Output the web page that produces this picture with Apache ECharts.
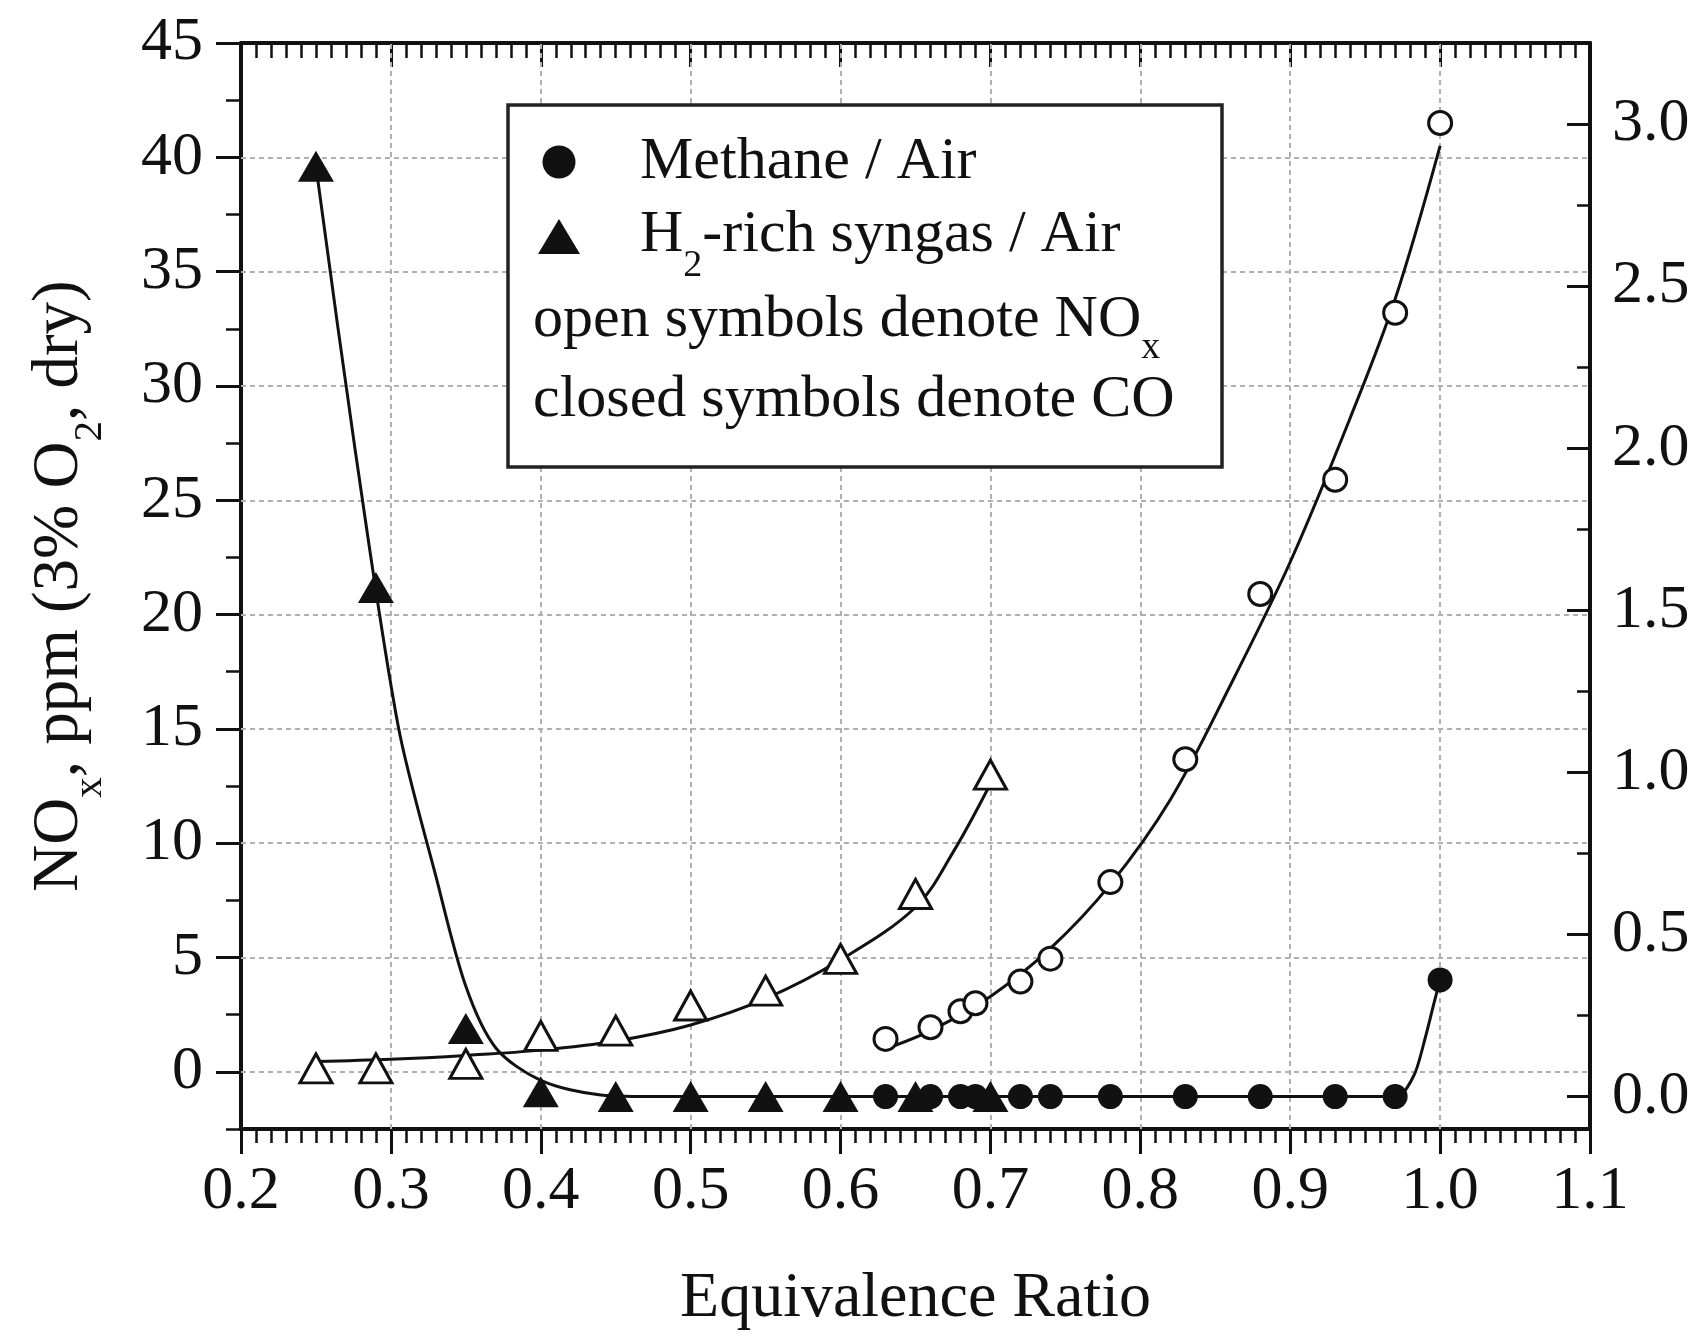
<!DOCTYPE html>
<html>
<head>
<meta charset="utf-8">
<title>NOx and CO emissions vs equivalence ratio</title>
<script src="https://cdn.jsdelivr.net/npm/echarts@6/dist/echarts.min.js"></script>
<style>
  html, body { margin: 0; padding: 0; background: #fff; }
  #chart { width: 1696px; height: 1336px; }
</style>
</head>
<body>
<div id="chart"></div>
<script>
// ---- measured points ----
const methanePhi = [0.63, 0.66, 0.68, 0.69, 0.72, 0.74, 0.78, 0.83, 0.88, 0.93, 0.97, 1.00];
const methaneNOx = [1.44, 1.95, 2.65, 3.0, 3.95, 4.95, 8.3, 13.67, 20.9, 25.9, 33.2, 41.5];
const methaneCO  = [0, 0, 0, 0, 0, 0, 0, 0, 0, 0, 0, 0.36];

const syngasPhi = [0.25, 0.29, 0.35, 0.40, 0.45, 0.50, 0.55, 0.60, 0.65, 0.70];
const syngasNOx = [0.15, 0.15, 0.35, 1.57, 1.8, 2.9, 3.55, 4.94, 7.78, 13.0];
const syngasCO  = [2.87, 1.57, 0.21, 0.015, 0, 0, 0, 0, 0, 0];

// ---- trend lines ----
const methaneNOxFitPhi = [0.63, 0.66, 0.70, 0.74, 0.78, 0.82, 0.86, 0.90, 0.94, 0.97, 1.0];
const methaneNOxFit    = [1.0, 1.8, 3.3, 5.4, 8.2, 11.9, 16.9, 22.3, 28.6, 33.8, 40.5];

const syngasNOxFitPhi = [0.25, 0.30, 0.35, 0.40, 0.45, 0.50, 0.55, 0.60, 0.65, 0.675, 0.70];
const syngasNOxFit    = [0.45, 0.55, 0.72, 0.95, 1.35, 2.05, 3.2, 4.9, 7.2, 9.6, 12.6];

const methaneCOFitPhi = [0.63, 0.80, 0.95, 0.972, 0.983, 0.990, 0.996, 1.0];
const methaneCOFit    = [0, 0, 0, 0.002, 0.07, 0.18, 0.29, 0.36];

const syngasCOFitPhi = [0.25, 0.276, 0.305, 0.33, 0.35, 0.37, 0.40, 0.44, 0.48, 0.70];
const syngasCOFit    = [2.87, 2.00, 1.14, 0.68, 0.34, 0.15, 0.05, 0.005, 0, 0];

// ---- ticks and grid ----
const leftMajor  = [0, 5, 10, 15, 20, 25, 30, 35, 40, 45];
const leftMinor  = [-2.5, 2.5, 7.5, 12.5, 17.5, 22.5, 27.5, 32.5, 37.5, 42.5];
const rightMajor = [0, 0.5, 1.0, 1.5, 2.0, 2.5, 3.0];
const rightMinor = [0.25, 0.75, 1.25, 1.75, 2.25, 2.75];
const gridPhi = [0.3, 0.4, 0.5, 0.6, 0.7, 0.8, 0.9, 1.0];
const gridNOx = [0, 5, 10, 15, 20, 25, 30, 35, 40];

const INK = '#111';
const FONT = '"Liberation Serif", "Times New Roman", Times, serif';
const zip = (xs, ys) => xs.map((x, i) => [x, ys[i]]);

const chart = echarts.init(document.getElementById('chart'));

const axisLine = { show: true, onZero: false, lineStyle: { color: INK, width: 4 } };
const majorTickStyle = { color: INK, width: 3 };
const minorTickStyle = { color: INK, width: 2.5 };

const fitLine = (phi, vals, yIdx, extra) => Object.assign({
  type: 'line',
  xAxisIndex: 0,
  yAxisIndex: yIdx,
  data: zip(phi, vals),
  smooth: 0.35,
  showSymbol: false,
  symbol: 'none',
  silent: true,
  lineStyle: { color: INK, width: 3 },
  z: 2
}, extra || {});

const subRich = (main, sub, pad) => ({
  m: { fontSize: main, fontFamily: FONT, fill: INK, color: INK, lineHeight: main },
  s: { fontSize: sub, fontFamily: FONT, fill: INK, color: INK, lineHeight: sub, padding: [pad, 0, 0, 0] }
});

// legend box, drawn above the grid lines
const LZ = 100;
const legendItems = [
  { type: 'rect', z: LZ, shape: { x: 508, y: 105, width: 714, height: 362 },
    style: { fill: '#fff', stroke: '#222', lineWidth: 3.5 } },
  { type: 'circle', z: LZ + 1, shape: { cx: 559, cy: 162, r: 16.5 }, style: { fill: INK } },
  { type: 'polygon', z: LZ + 1, shape: { points: [[559, 219], [580, 254], [538, 254]] }, style: { fill: INK } },
  { type: 'text', z: LZ + 1, x: 640, y: 162,
    style: { text: 'Methane / Air', fontSize: 60, fontFamily: FONT, fill: INK,
             align: 'left', verticalAlign: 'middle' } },
  { type: 'text', z: LZ + 1, x: 640, y: 235,
    style: { text: '{m|H}{s|2}{m|-rich syngas / Air}', align: 'left', verticalAlign: 'middle',
             rich: subRich(60, 38, 62) } },
  { type: 'text', z: LZ + 1, x: 533, y: 320,
    style: { text: '{m|open symbols denote NO}{s|x}', align: 'left', verticalAlign: 'middle',
             rich: subRich(60, 38, 56) } },
  { type: 'text', z: LZ + 1, x: 533, y: 400,
    style: { text: 'closed symbols denote CO', fontSize: 60, fontFamily: FONT, fill: INK,
             align: 'left', verticalAlign: 'middle' } }
];

const option = {
  animation: false,
  backgroundColor: '#fff',
  grid: { left: 240, right: 106, top: 43, bottom: 206 },
  xAxis: [
    {
      type: 'value', position: 'bottom', min: 0.2, max: 1.1, interval: 0.1,
      axisLine,
      axisTick: { show: true, length: 25, lineStyle: majorTickStyle },
      minorTick: { show: true, splitNumber: 10, length: 14, lineStyle: minorTickStyle },
      axisLabel: {
        margin: 32, fontSize: 62, fontFamily: FONT, color: INK,
        showMinLabel: true, showMaxLabel: true,
        formatter: v => v.toFixed(1)
      },
      splitLine: { show: false },
      name: 'Equivalence Ratio', nameLocation: 'middle', nameGap: 138,
      nameTextStyle: { fontSize: 64, fontFamily: FONT, color: INK }
    },
    {
      type: 'value', position: 'top', min: 0.2, max: 1.1, interval: 0.1,
      axisLine,
      axisTick: { show: true, inside: true, length: 24, lineStyle: majorTickStyle },
      minorTick: { show: true, splitNumber: 10, length: 15, lineStyle: minorTickStyle },
      axisLabel: { show: false },
      splitLine: { show: false }
    }
  ],
  yAxis: [
    {
      type: 'value', position: 'left', min: -2.5, max: 45,
      axisLine,
      axisTick: { show: true, length: 25, lineStyle: majorTickStyle, customValues: leftMajor },
      axisLabel: {
        margin: 38, fontSize: 62, fontFamily: FONT, color: INK,
        customValues: leftMajor, formatter: v => String(v)
      },
      splitLine: { show: false },
      name: '{m|NO}{s|x}{m|, ppm (3% O}{s|2}{m|, dry)}',
      nameLocation: 'middle', nameRotate: 90, nameGap: 149,
      nameTextStyle: { rich: subRich(65, 41, 62) }
    },
    {
      type: 'value', position: 'left', min: -2.5, max: 45,
      axisLine: { show: false },
      axisTick: { show: true, length: 15, lineStyle: minorTickStyle, customValues: leftMinor },
      axisLabel: { show: false },
      splitLine: { show: false }
    },
    {
      type: 'value', position: 'right', min: -0.1, max: 3.25,
      axisLine,
      axisTick: { show: true, inside: true, length: 23, lineStyle: majorTickStyle, customValues: rightMajor },
      axisLabel: {
        margin: 22, fontSize: 62, fontFamily: FONT, color: INK,
        customValues: rightMajor, formatter: v => v.toFixed(1)
      },
      splitLine: { show: false }
    },
    {
      type: 'value', position: 'right', min: -0.1, max: 3.25,
      axisLine: { show: false },
      axisTick: { show: true, inside: true, length: 13, lineStyle: minorTickStyle, customValues: rightMinor },
      axisLabel: { show: false },
      splitLine: { show: false }
    }
  ],
  series: [
    fitLine(methaneNOxFitPhi, methaneNOxFit, 0, {
      name: 'Methane NOx fit',
      markLine: {
        silent: true,
        z: 1,
        symbol: 'none',
        label: { show: false },
        lineStyle: { color: '#b0b0b0', type: [5, 4], width: 2 },
        emphasis: { disabled: true },
        data: gridPhi.map(v => ({ xAxis: v })).concat(gridNOx.map(v => ({ yAxis: v })))
      }
    }),
    fitLine(syngasNOxFitPhi, syngasNOxFit, 0, { name: 'Syngas NOx fit' }),
    fitLine(methaneCOFitPhi, methaneCOFit, 2, { name: 'Methane CO fit', smooth: 0.25 }),
    fitLine(syngasCOFitPhi, syngasCOFit, 2, { name: 'Syngas CO fit', smooth: 0.3 }),
    {
      name: 'Methane / Air NOx', type: 'scatter', xAxisIndex: 0, yAxisIndex: 0,
      data: zip(methanePhi, methaneNOx), symbol: 'circle', symbolSize: 23,
      itemStyle: { color: '#fff', borderColor: INK, borderWidth: 3, opacity: 1 }, z: 4
    },
    {
      name: 'H2-rich syngas / Air NOx', type: 'scatter', xAxisIndex: 0, yAxisIndex: 0,
      data: zip(syngasPhi, syngasNOx), symbol: 'triangle', symbolSize: [32, 29],
      itemStyle: { color: '#fff', borderColor: INK, borderWidth: 3, opacity: 1 }, z: 4
    },
    {
      name: 'Methane / Air CO', type: 'scatter', xAxisIndex: 0, yAxisIndex: 2,
      data: zip(methanePhi, methaneCO), symbol: 'circle', symbolSize: 25,
      itemStyle: { color: INK, opacity: 1 }, z: 5
    },
    {
      name: 'H2-rich syngas / Air CO', type: 'scatter', xAxisIndex: 0, yAxisIndex: 2,
      data: zip(syngasPhi, syngasCO), symbol: 'triangle', symbolSize: [36, 31],
      itemStyle: { color: INK, opacity: 1 }, z: 5
    }
  ],
  graphic: [
    { type: 'group', z: LZ, children: legendItems }
  ]
};

chart.setOption(option);
</script>
</body>
</html>
